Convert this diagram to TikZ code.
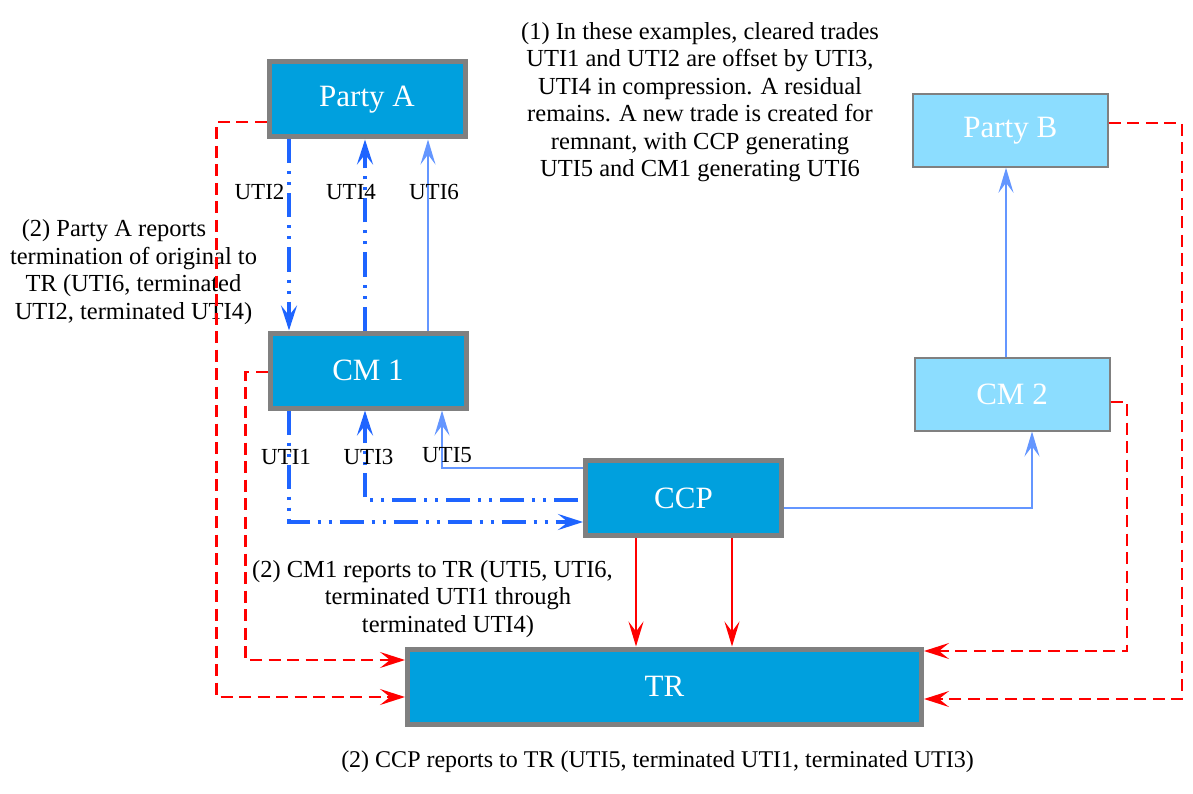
\documentclass[tikz,border=0pt]{standalone}
\usepackage{fontspec}
\setmainfont{Liberation Serif}
\usepackage{xcolor}
\usetikzlibrary{arrows.meta, positioning, calc}
\definecolor{nodeblue}{RGB}{0,160,222}
\definecolor{lightnode}{RGB}{140,221,255}
\definecolor{framegray}{RGB}{128,128,128}
\definecolor{tradeblue}{RGB}{30,100,255}
\definecolor{newblue}{RGB}{100,150,255}
\definecolor{reportred}{RGB}{255,0,0}

\begin{document}
\begin{tikzpicture}[
  x=1pt,y=-1pt,
  entity/.style={
    rectangle, draw=framegray, line width=5pt, fill=nodeblue,
    minimum width=196pt, minimum height=75pt, inner sep=0pt,
    text=white, font=\fontsize{31}{36}\selectfont
  },
  lightentity/.style={entity, line width=2pt, fill=lightnode,
    minimum width=195pt, minimum height=73pt},
  oldtrade/.style={draw=tradeblue, line width=3.5pt,
    dash pattern=on 24pt off 8pt on 3pt off 8pt on 3pt off 8pt,
    -{Stealth[length=25pt, width=16pt, inset=10pt]}},
  newtrade/.style={draw=newblue, line width=2pt,
    -{Stealth[length=25pt, width=15pt, inset=10pt]}},
  report/.style={draw=reportred, line width=2.5pt, dash pattern=on 12pt off 6.5pt,
    -{Stealth[length=25pt, width=16pt, inset=10pt]}},
  ccpreport/.style={draw=reportred, line width=2pt,
    -{Stealth[length=25pt, width=15pt, inset=10pt]}},
  lbl/.style={font=\fontsize{23}{27}\selectfont, inner sep=0pt},
  note/.style={font=\fontsize{24.5}{27.5}\selectfont, align=center, inner sep=0pt}
]
\useasboundingbox (0,0) rectangle (1193,794);

% ---- parties and clearing ----
\node[entity]      (partyA) at (367, 99.5)   {Party A};
\node[entity]      (cm1)    at (368, 370.5)  {CM 1};
\node[entity]      (ccp)    at (683.5, 498)  {CCP};
\node[entity, minimum width=514pt] (tr) at (664.5, 686.5) {TR};
\node[lightentity] (partyB) at (1010.3, 130.3) {Party B};
\node[lightentity] (cm2)    at (1012, 394)   {CM 2};

% ---- notes ----
\node[note] (compress) at (700, 102) {(1) In these examples, cleared trades\\
  UTI1 and UTI2 are offset by UTI3,\\UTI4 in compression. A residual\\
  remains. A new trade is created for\\remnant, with CCP generating\\
  UTI5 and CM1 generating UTI6};
\node[note] (repA)   at (133.5, 272)  {(2) Party A reports\hspace*{39pt}\\termination of original to\\
  TR (UTI6, terminated\\UTI2, terminated UTI4)};
\node[note] (repCM1) at (448, 599)    {(2) CM1 reports to TR (UTI5, UTI6,\hspace*{31pt}\\
  terminated UTI1 through\\terminated UTI4)};
\node[note, font=\fontsize{24}{27.5}\selectfont] (repCCP) at (657.5, 761.5)
  {(2) CCP reports to TR (UTI5, terminated UTI1, terminated UTI3)};

% ---- Party A <-> CM 1 ----
\draw[oldtrade] ([xshift=-78pt]partyA.south) -- ([xshift=-78pt]partyA.south |- cm1.north)
  node[lbl, pos=0.276, xshift=-29.5pt] {UTI2};
\draw[oldtrade] ([xshift=-3pt]cm1.north) -- ([xshift=-3pt]cm1.north |- partyA.south)
  node[lbl, pos=0.724, xshift=-14pt] {UTI4};
\draw[newtrade] ([xshift=60pt]cm1.north) -- ([xshift=60pt]cm1.north |- partyA.south)
  node[lbl, pos=0.724, xshift=6pt] {UTI6};

% ---- CM 1 <-> CCP ----
\draw[oldtrade] ([xshift=-79pt]cm1.south) |- ([yshift=-24pt]ccp.west)
  node[lbl, pos=0.209, xshift=-3pt] {UTI1};
\draw[oldtrade] ([xshift=-5pt, yshift=-2pt]ccp.west) -| ([xshift=-3pt]cm1.south)
  node[lbl, pos=0.74, xshift=3.5pt] {UTI3};
\draw[newtrade] ([yshift=30pt]ccp.west) -| ([xshift=74pt]cm1.south)
  node[lbl, pos=0.613, xshift=5pt] {UTI5};

% ---- CCP -> CM 2 -> Party B ----
\draw[newtrade] ([yshift=-10pt]ccp.east) -| ([xshift=20pt]cm2.south);
\draw[newtrade] ([xshift=-6pt]cm2.north) -- ([xshift=-6pt]cm2.north |- partyB.south);

% ---- reports to TR ----
\draw[ccpreport] ([xshift=-47.5pt]ccp.south) -- ([xshift=-47.5pt]ccp.south |- tr.north);
\draw[ccpreport] ([xshift=48.5pt]ccp.south) -- ([xshift=48.5pt]ccp.south |- tr.north);
\draw[report] ([yshift=-22.5pt]partyA.west) -- ++(-50,0) |- ([yshift=-10.5pt]tr.west);
\draw[report] ([yshift=-1.5pt]cm1.west) -- ++(-22,0) |- ([yshift=26.5pt]tr.west);
\draw[report] ([yshift=-8pt]cm2.east) -- ++(16.5,0) |- ([yshift=35.5pt]tr.east);
\draw[report] ([yshift=7.3pt]partyB.east) -- ++(73,0) |- ([yshift=-12.5pt]tr.east);

\end{tikzpicture}
\end{document}
